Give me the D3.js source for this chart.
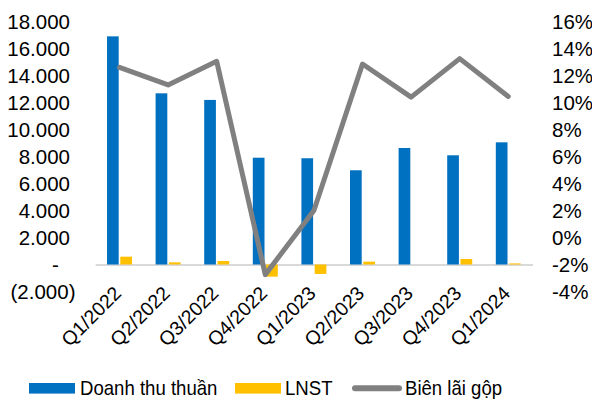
<!DOCTYPE html>
<html>
<head>
<meta charset="utf-8">
<script src="https://cdn.jsdelivr.net/npm/d3@7"></script>
<style>
  html, body { margin: 0; padding: 0; background: #fff; }
  svg { display: block; font-family: "Liberation Sans", Arial, sans-serif; }
</style>
</head>
<body>
<svg id="chart" width="592" height="401"></svg>
<script>
// Quarterly figures
const quarters = ["Q1/2022", "Q2/2022", "Q3/2022", "Q4/2022", "Q1/2023", "Q2/2023", "Q3/2023", "Q4/2023", "Q1/2024"];
const revenue = [16900, 12680, 12190, 7910, 7870, 6980, 8630, 8090, 9050];   // Doanh thu thuần
const netProfit = [580, 160, 260, -900, -700, 210, 0, 410, 80];              // LNST
const grossMargin = [12.6, 11.3, 13.05, -2.75, 2.0, 12.85, 10.4, 13.25, 10.45]; // Biên lãi gộp (%)
const leftTicks = [-2000, 0, 2000, 4000, 6000, 8000, 10000, 12000, 14000, 16000, 18000];
const rightTicks = [-4, -2, 0, 2, 4, 6, 8, 10, 12, 14, 16];
const seriesNames = ["Doanh thu thuần", "LNST", "Biên lãi gộp"];

const colors = { rev: "#0070C0", np: "#FFC000", gm: "#808080" };
const svg = d3.select("#chart");

const plot = { left: 95.2, right: 532.6, top: 21.5, bottom: 291.5 };

const yL = d3.scaleLinear().domain([-2000, 18000]).range([plot.bottom, plot.top]);
const yR = d3.scaleLinear().domain([-4, 16]).range([plot.bottom, plot.top]);

const x0 = d3.scaleBand().domain(quarters).range([plot.left, plot.right])
  .paddingInner(0.486).paddingOuter(0.243);
const x1 = d3.scaleBand().domain(["rev", "np"]).range([0, x0.bandwidth()]).paddingInner(0.12);

// Accounting-style labels: dot as thousands separator, dash for zero, brackets for negatives
function leftLabel(v) {
  if (v === 0) return "-";
  const s = d3.format(",")(Math.abs(v)).replace(/,/g, ".");
  return v < 0 ? "(" + s + ")" : s;
}

// Left axis labels
const gL = svg.append("g").attr("font-size", 20.5).attr("fill", "#000");
gL.selectAll("text").data(leftTicks).join("text")
  .attr("x", d => d === 0 ? 55.5 : (d < 0 ? 75.5 : 70))
  .attr("y", d => yL(d))
  .attr("dy", "0.36em")
  .attr("text-anchor", d => d === 0 ? "middle" : "end")
  .text(leftLabel);

// Right axis labels
const gR = svg.append("g").attr("font-size", 20.5).attr("fill", "#000");
gR.selectAll("text").data(rightTicks).join("text")
  .attr("x", 552)
  .attr("y", d => yR(d))
  .attr("dy", "0.36em")
  .attr("text-anchor", "start")
  .text(d => d + "%");

// Zero baseline
const xAxis = d3.axisBottom(x0).tickSize(0).tickFormat("");
svg.append("g")
  .attr("transform", `translate(0,${yL(0)})`)
  .call(xAxis)
  .call(g => g.select(".domain").attr("stroke", "#d9d9d9").attr("stroke-width", 2));

// Bars
const rows = quarters.map((q, i) => ({ q, rev: revenue[i], np: netProfit[i] }));
const groups = svg.append("g").selectAll("g").data(rows).join("g")
  .attr("transform", d => `translate(${x0(d.q)},0)`);
groups.selectAll("rect").data(d => ["rev", "np"].map(k => ({ k, v: d[k] }))).join("rect")
  .attr("x", d => x1(d.k))
  .attr("width", x1.bandwidth())
  .attr("y", d => yL(Math.max(0, d.v)))
  .attr("height", d => Math.abs(yL(d.v) - yL(0)))
  .attr("fill", d => colors[d.k]);

// Gross margin line
const line = d3.line()
  .x((d, i) => x0(quarters[i]) + x0.bandwidth() / 2)
  .y(d => yR(d));
svg.append("path")
  .datum(grossMargin)
  .attr("d", line)
  .attr("fill", "none")
  .attr("stroke", colors.gm)
  .attr("stroke-width", 5)
  .attr("stroke-linejoin", "round")
  .attr("stroke-linecap", "round");

// Category labels, rotated
svg.append("g").attr("font-size", 19.5).attr("fill", "#000")
  .selectAll("text").data(quarters).join("text")
  .attr("text-anchor", "end")
  .attr("transform", d => `translate(${x0(d) + x0.bandwidth() / 2 + 3},${yL(0) + 30}) rotate(-45)`)
  .text(d => d);

// Legend
const leg = svg.append("g").attr("font-size", 18.6).attr("fill", "#000");
const legText = (x, t) => leg.append("text")
  .attr("transform", `translate(${x},395) scale(1,1.13)`).text(t);
leg.append("rect").attr("x", 29).attr("y", 383).attr("width", 46).attr("height", 10.6).attr("fill", colors.rev);
legText(80, seriesNames[0]);
leg.append("rect").attr("x", 235).attr("y", 383).attr("width", 46).attr("height", 10.6).attr("fill", colors.np);
legText(285, seriesNames[1]);
leg.append("line").attr("x1", 355).attr("x2", 399).attr("y1", 388.3).attr("y2", 388.3)
  .attr("stroke", colors.gm).attr("stroke-width", 6).attr("stroke-linecap", "round");
legText(405, seriesNames[2]);
</script>
</body>
</html>
